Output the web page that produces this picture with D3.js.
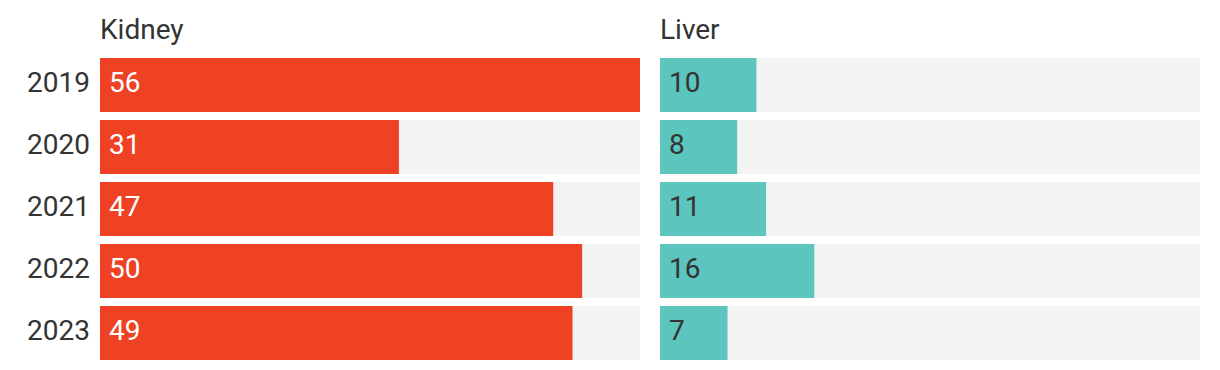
<!DOCTYPE html>
<html>
<head>
<meta charset="utf-8">
<script src="https://cdn.jsdelivr.net/npm/d3@7"></script>
<style>
  body { margin: 0; background: #fff; }
  svg text { font-family: Roboto, "Noto Sans", sans-serif; }
</style>
</head>
<body>
<div id="chart"></div>
<script>
const years = ['2019', '2020', '2021', '2022', '2023'];
const kidney = [56, 31, 47, 50, 49];
const liver = [10, 8, 11, 16, 7];
const panels = ['Kidney', 'Liver'];
const maxValue = 56;

const width = 1220;
const height = 370;
const panelWidth = 540;
const panelX = [100, 660];
const fontSize = 28;

const svg = d3.select('#chart')
  .append('svg')
  .attr('width', width)
  .attr('height', height);

// 54px bars on a 62px step
const y = d3.scaleBand()
  .domain(years)
  .range([58, 360])
  .paddingInner(8 / 62)
  .paddingOuter(0);

const x = d3.scaleLinear()
  .domain([0, maxValue])
  .range([0, panelWidth]);

// year labels
svg.append('g')
  .selectAll('text')
  .data(years)
  .enter()
  .append('text')
  .attr('x', 90)
  .attr('y', d => y(d) + y.bandwidth() / 2 + 6.5)
  .attr('text-anchor', 'end')
  .attr('font-size', fontSize)
  .attr('fill', '#333')
  .text(d => d);

const series = [kidney, liver];
const colors = ['#EF4123', '#5BC5BE'];
const labelColors = ['#fff', '#333'];

series.forEach((values, i) => {
  const g = svg.append('g')
    .attr('transform', `translate(${panelX[i]},0)`);

  g.append('text')
    .attr('x', 0)
    .attr('y', 39)
    .attr('font-size', fontSize)
    .attr('fill', '#333')
    .text(panels[i]);

  // background tracks
  g.selectAll('rect.bg')
    .data(years)
    .enter()
    .append('rect')
    .attr('class', 'bg')
    .attr('x', 0)
    .attr('y', d => y(d))
    .attr('width', x(maxValue))
    .attr('height', y.bandwidth())
    .attr('fill', '#F3F3F3');

  g.selectAll('rect.bar')
    .data(values)
    .enter()
    .append('rect')
    .attr('class', 'bar')
    .attr('x', 0)
    .attr('y', (d, j) => y(years[j]))
    .attr('width', d => x(d))
    .attr('height', y.bandwidth())
    .attr('fill', colors[i]);

  g.selectAll('text.value')
    .data(values)
    .enter()
    .append('text')
    .attr('class', 'value')
    .attr('x', 9)
    .attr('y', (d, j) => y(years[j]) + y.bandwidth() / 2 + 6.5)
    .attr('font-size', fontSize)
    .attr('fill', labelColors[i])
    .text(d => d);
});
</script>
</body>
</html>
